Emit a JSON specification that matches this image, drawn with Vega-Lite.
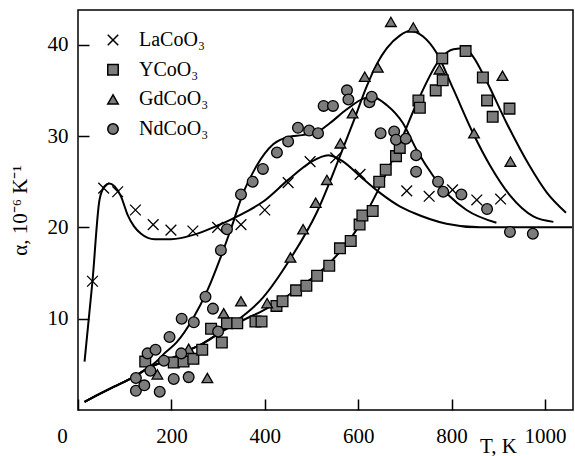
{
  "$schema": "https://vega.github.io/schema/vega-lite/v6.json",
  "width": 495,
  "height": 400,
  "autosize": {"type": "none"},
  "padding": {"left": 78, "top": 10, "right": 2, "bottom": 46},
  "background": "white",
  "config": {
    "view": {"stroke": "black", "strokeWidth": 1.5},
    "font": "Liberation Serif",
    "axis": {
      "domain": false,
      "ticks": false,
      "grid": true,
      "gridColor": "black",
      "gridWidth": 1.5,
      "gridOpacity": 1,
      "labelColor": "black",
      "labelFont": "Liberation Serif",
      "labelFontSize": 21,
      "labelFlush": false,
      "titleFont": "Liberation Serif",
      "titleFontSize": 21,
      "titleFontWeight": "normal",
      "titleColor": "black"
    }
  },
  "datasets": {
    "curves": [
      {"c": "La", "T": 14, "a": 5.3}, {"c": "La", "T": 31, "a": 14.1}, {"c": "La", "T": 46, "a": 23.0}, {"c": "La", "T": 57, "a": 24.5}, {"c": "La", "T": 67, "a": 24.8}, {"c": "La", "T": 78, "a": 24.5}, {"c": "La", "T": 92, "a": 23.4}, {"c": "La", "T": 106, "a": 21.4}, {"c": "La", "T": 120, "a": 20.1}, {"c": "La", "T": 135, "a": 19.3}, {"c": "La", "T": 164, "a": 18.7}, {"c": "La", "T": 199, "a": 18.7}, {"c": "La", "T": 249, "a": 19.2}, {"c": "La", "T": 299, "a": 20.2}, {"c": "La", "T": 325, "a": 20.8}, {"c": "La", "T": 364, "a": 21.8}, {"c": "La", "T": 396, "a": 22.8}, {"c": "La", "T": 450, "a": 25.2}, {"c": "La", "T": 497, "a": 27.1}, {"c": "La", "T": 536, "a": 27.9}, {"c": "La", "T": 568, "a": 27.2}, {"c": "La", "T": 604, "a": 25.6}, {"c": "La", "T": 646, "a": 23.8}, {"c": "La", "T": 689, "a": 22.3}, {"c": "La", "T": 718, "a": 21.6}, {"c": "La", "T": 789, "a": 20.4}, {"c": "La", "T": 861, "a": 20.0}, {"c": "La", "T": 950, "a": 20.0}, {"c": "La", "T": 1058, "a": 20.0},
      {"c": "Nd", "T": 14, "a": 0.9}, {"c": "Nd", "T": 40, "a": 1.6}, {"c": "Nd", "T": 71, "a": 2.4}, {"c": "Nd", "T": 100, "a": 3.1}, {"c": "Nd", "T": 125, "a": 3.8}, {"c": "Nd", "T": 150, "a": 4.6}, {"c": "Nd", "T": 168, "a": 5.3}, {"c": "Nd", "T": 185, "a": 6.2}, {"c": "Nd", "T": 211, "a": 7.4}, {"c": "Nd", "T": 246, "a": 10.0}, {"c": "Nd", "T": 278, "a": 13.2}, {"c": "Nd", "T": 306, "a": 16.8}, {"c": "Nd", "T": 328, "a": 19.9}, {"c": "Nd", "T": 354, "a": 23.8}, {"c": "Nd", "T": 382, "a": 26.7}, {"c": "Nd", "T": 418, "a": 29.1}, {"c": "Nd", "T": 450, "a": 29.9}, {"c": "Nd", "T": 480, "a": 30.1}, {"c": "Nd", "T": 511, "a": 30.4}, {"c": "Nd", "T": 539, "a": 31.4}, {"c": "Nd", "T": 575, "a": 32.9}, {"c": "Nd", "T": 611, "a": 34.1}, {"c": "Nd", "T": 629, "a": 34.3}, {"c": "Nd", "T": 661, "a": 33.4}, {"c": "Nd", "T": 696, "a": 31.4}, {"c": "Nd", "T": 725, "a": 28.5}, {"c": "Nd", "T": 761, "a": 25.6}, {"c": "Nd", "T": 796, "a": 23.4}, {"c": "Nd", "T": 832, "a": 21.9}, {"c": "Nd", "T": 896, "a": 20.5},
      {"c": "Y", "T": 14, "a": 0.9}, {"c": "Y", "T": 40, "a": 1.6}, {"c": "Y", "T": 71, "a": 2.4}, {"c": "Y", "T": 100, "a": 3.1}, {"c": "Y", "T": 125, "a": 3.8}, {"c": "Y", "T": 150, "a": 4.6}, {"c": "Y", "T": 178, "a": 5.2}, {"c": "Y", "T": 211, "a": 5.9}, {"c": "Y", "T": 240, "a": 6.6}, {"c": "Y", "T": 268, "a": 7.3}, {"c": "Y", "T": 299, "a": 8.3}, {"c": "Y", "T": 330, "a": 9.2}, {"c": "Y", "T": 364, "a": 10.1}, {"c": "Y", "T": 389, "a": 10.7}, {"c": "Y", "T": 418, "a": 11.5}, {"c": "Y", "T": 468, "a": 13.2}, {"c": "Y", "T": 539, "a": 16.1}, {"c": "Y", "T": 596, "a": 19.7}, {"c": "Y", "T": 643, "a": 24.1}, {"c": "Y", "T": 689, "a": 29.2}, {"c": "Y", "T": 729, "a": 34.0}, {"c": "Y", "T": 775, "a": 38.4}, {"c": "Y", "T": 804, "a": 39.5}, {"c": "Y", "T": 829, "a": 39.6}, {"c": "Y", "T": 846, "a": 38.7}, {"c": "Y", "T": 875, "a": 36.0}, {"c": "Y", "T": 918, "a": 31.4}, {"c": "Y", "T": 965, "a": 26.9}, {"c": "Y", "T": 1004, "a": 23.8}, {"c": "Y", "T": 1045, "a": 21.6},
      {"c": "Gd", "T": 14, "a": 0.9}, {"c": "Gd", "T": 40, "a": 1.6}, {"c": "Gd", "T": 71, "a": 2.4}, {"c": "Gd", "T": 100, "a": 3.1}, {"c": "Gd", "T": 125, "a": 3.8}, {"c": "Gd", "T": 150, "a": 4.6}, {"c": "Gd", "T": 178, "a": 5.2}, {"c": "Gd", "T": 211, "a": 5.9}, {"c": "Gd", "T": 240, "a": 6.6}, {"c": "Gd", "T": 268, "a": 7.3}, {"c": "Gd", "T": 299, "a": 8.3}, {"c": "Gd", "T": 330, "a": 9.4}, {"c": "Gd", "T": 396, "a": 12.3}, {"c": "Gd", "T": 454, "a": 16.5}, {"c": "Gd", "T": 511, "a": 21.6}, {"c": "Gd", "T": 561, "a": 27.8}, {"c": "Gd", "T": 590, "a": 31.6}, {"c": "Gd", "T": 618, "a": 35.4}, {"c": "Gd", "T": 640, "a": 37.9}, {"c": "Gd", "T": 661, "a": 39.6}, {"c": "Gd", "T": 689, "a": 41.0}, {"c": "Gd", "T": 710, "a": 41.5}, {"c": "Gd", "T": 739, "a": 40.9}, {"c": "Gd", "T": 768, "a": 39.1}, {"c": "Gd", "T": 804, "a": 35.1}, {"c": "Gd", "T": 846, "a": 30.3}, {"c": "Gd", "T": 882, "a": 26.8}, {"c": "Gd", "T": 925, "a": 23.5}, {"c": "Gd", "T": 975, "a": 21.2}, {"c": "Gd", "T": 1018, "a": 20.6}
    ],
    "points": [
      {"s": "LaCoO₃", "T": 31, "a": 14.1}, {"s": "LaCoO₃", "T": 55, "a": 24.3}, {"s": "LaCoO₃", "T": 85, "a": 23.9}, {"s": "LaCoO₃", "T": 123, "a": 21.9}, {"s": "LaCoO₃", "T": 161, "a": 20.3}, {"s": "LaCoO₃", "T": 199, "a": 19.7}, {"s": "LaCoO₃", "T": 246, "a": 19.6}, {"s": "LaCoO₃", "T": 299, "a": 20.0}, {"s": "LaCoO₃", "T": 349, "a": 20.3}, {"s": "LaCoO₃", "T": 400, "a": 21.9}, {"s": "LaCoO₃", "T": 450, "a": 24.9}, {"s": "LaCoO₃", "T": 497, "a": 27.2}, {"s": "LaCoO₃", "T": 552, "a": 27.6}, {"s": "LaCoO₃", "T": 604, "a": 25.8}, {"s": "LaCoO₃", "T": 704, "a": 24.0}, {"s": "LaCoO₃", "T": 752, "a": 23.4}, {"s": "LaCoO₃", "T": 802, "a": 24.1}, {"s": "LaCoO₃", "T": 854, "a": 23.0}, {"s": "LaCoO₃", "T": 905, "a": 23.1},
      {"s": "YCoO₃", "T": 144, "a": 5.3}, {"s": "YCoO₃", "T": 205, "a": 5.2}, {"s": "YCoO₃", "T": 226, "a": 5.3}, {"s": "YCoO₃", "T": 247, "a": 5.6}, {"s": "YCoO₃", "T": 266, "a": 6.6}, {"s": "YCoO₃", "T": 285, "a": 8.9}, {"s": "YCoO₃", "T": 308, "a": 7.4}, {"s": "YCoO₃", "T": 319, "a": 9.5}, {"s": "YCoO₃", "T": 341, "a": 9.5}, {"s": "YCoO₃", "T": 380, "a": 9.7}, {"s": "YCoO₃", "T": 393, "a": 9.7}, {"s": "YCoO₃", "T": 425, "a": 11.4}, {"s": "YCoO₃", "T": 438, "a": 11.9}, {"s": "YCoO₃", "T": 467, "a": 13.1}, {"s": "YCoO₃", "T": 489, "a": 13.6}, {"s": "YCoO₃", "T": 512, "a": 14.7}, {"s": "YCoO₃", "T": 538, "a": 15.8}, {"s": "YCoO₃", "T": 561, "a": 17.7}, {"s": "YCoO₃", "T": 584, "a": 18.5}, {"s": "YCoO₃", "T": 603, "a": 20.3}, {"s": "YCoO₃", "T": 609, "a": 21.3}, {"s": "YCoO₃", "T": 631, "a": 21.8}, {"s": "YCoO₃", "T": 645, "a": 25.0}, {"s": "YCoO₃", "T": 659, "a": 26.3}, {"s": "YCoO₃", "T": 681, "a": 27.8}, {"s": "YCoO₃", "T": 689, "a": 28.7}, {"s": "YCoO₃", "T": 729, "a": 33.9}, {"s": "YCoO₃", "T": 732, "a": 33.1}, {"s": "YCoO₃", "T": 766, "a": 35.0}, {"s": "YCoO₃", "T": 781, "a": 36.1}, {"s": "YCoO₃", "T": 780, "a": 38.5}, {"s": "YCoO₃", "T": 830, "a": 39.3}, {"s": "YCoO₃", "T": 867, "a": 36.4}, {"s": "YCoO₃", "T": 876, "a": 33.9}, {"s": "YCoO₃", "T": 888, "a": 32.1}, {"s": "YCoO₃", "T": 924, "a": 33.0},
      {"s": "GdCoO₃", "T": 170, "a": 3.9}, {"s": "GdCoO₃", "T": 237, "a": 6.7}, {"s": "GdCoO₃", "T": 277, "a": 3.5}, {"s": "GdCoO₃", "T": 312, "a": 10.6}, {"s": "GdCoO₃", "T": 349, "a": 11.9}, {"s": "GdCoO₃", "T": 405, "a": 11.7}, {"s": "GdCoO₃", "T": 455, "a": 16.7}, {"s": "GdCoO₃", "T": 482, "a": 19.8}, {"s": "GdCoO₃", "T": 509, "a": 22.7}, {"s": "GdCoO₃", "T": 533, "a": 25.2}, {"s": "GdCoO₃", "T": 562, "a": 29.2}, {"s": "GdCoO₃", "T": 588, "a": 32.5}, {"s": "GdCoO₃", "T": 614, "a": 36.5}, {"s": "GdCoO₃", "T": 642, "a": 37.5}, {"s": "GdCoO₃", "T": 670, "a": 42.5}, {"s": "GdCoO₃", "T": 718, "a": 41.9}, {"s": "GdCoO₃", "T": 774, "a": 37.3}, {"s": "GdCoO₃", "T": 848, "a": 30.3}, {"s": "GdCoO₃", "T": 909, "a": 36.6}, {"s": "GdCoO₃", "T": 926, "a": 27.2},
      {"s": "NdCoO₃", "T": 124, "a": 3.5}, {"s": "NdCoO₃", "T": 124, "a": 2.1}, {"s": "NdCoO₃", "T": 142, "a": 2.7}, {"s": "NdCoO₃", "T": 149, "a": 6.2}, {"s": "NdCoO₃", "T": 166, "a": 6.6}, {"s": "NdCoO₃", "T": 155, "a": 4.3}, {"s": "NdCoO₃", "T": 175, "a": 2.0}, {"s": "NdCoO₃", "T": 184, "a": 5.4}, {"s": "NdCoO₃", "T": 196, "a": 8.0}, {"s": "NdCoO₃", "T": 205, "a": 3.4}, {"s": "NdCoO₃", "T": 222, "a": 10.0}, {"s": "NdCoO₃", "T": 221, "a": 6.2}, {"s": "NdCoO₃", "T": 237, "a": 3.6}, {"s": "NdCoO₃", "T": 248, "a": 9.6}, {"s": "NdCoO₃", "T": 273, "a": 12.4}, {"s": "NdCoO₃", "T": 289, "a": 11.1}, {"s": "NdCoO₃", "T": 300, "a": 8.6}, {"s": "NdCoO₃", "T": 306, "a": 17.5}, {"s": "NdCoO₃", "T": 319, "a": 19.8}, {"s": "NdCoO₃", "T": 349, "a": 23.6}, {"s": "NdCoO₃", "T": 374, "a": 25.0}, {"s": "NdCoO₃", "T": 396, "a": 26.4}, {"s": "NdCoO₃", "T": 426, "a": 28.2}, {"s": "NdCoO₃", "T": 450, "a": 29.4}, {"s": "NdCoO₃", "T": 471, "a": 30.9}, {"s": "NdCoO₃", "T": 495, "a": 30.6}, {"s": "NdCoO₃", "T": 514, "a": 30.3}, {"s": "NdCoO₃", "T": 526, "a": 33.3}, {"s": "NdCoO₃", "T": 546, "a": 33.3}, {"s": "NdCoO₃", "T": 576, "a": 35.0}, {"s": "NdCoO₃", "T": 579, "a": 34.0}, {"s": "NdCoO₃", "T": 624, "a": 33.7}, {"s": "NdCoO₃", "T": 629, "a": 34.3}, {"s": "NdCoO₃", "T": 648, "a": 30.3}, {"s": "NdCoO₃", "T": 677, "a": 30.5}, {"s": "NdCoO₃", "T": 681, "a": 29.6}, {"s": "NdCoO₃", "T": 702, "a": 29.7}, {"s": "NdCoO₃", "T": 724, "a": 27.9}, {"s": "NdCoO₃", "T": 724, "a": 26.1}, {"s": "NdCoO₃", "T": 771, "a": 25.0}, {"s": "NdCoO₃", "T": 782, "a": 23.9}, {"s": "NdCoO₃", "T": 821, "a": 23.6}, {"s": "NdCoO₃", "T": 876, "a": 22.0}, {"s": "NdCoO₃", "T": 925, "a": 19.5}, {"s": "NdCoO₃", "T": 974, "a": 19.3}
    ]
  },
  "encoding": {
    "x": {
      "field": "T",
      "type": "quantitative",
      "scale": {"domain": [0, 1060], "nice": false, "zero": false},
      "axis": {
        "values": [0, 200, 400, 600, 800, 1000],
        "format": "d",
        "gridDash": [0, 389, 11, 1000],
        "labelPadding": 15,
        "labelOffset": {"condition": {"test": "datum.value === 0", "value": -16}, "value": 0},
        "title": "T, K",
        "titleX": 420,
        "titleY": 42,
        "titleAlign": "center",
        "titleBaseline": "alphabetic"
      }
    },
    "y": {
      "field": "a",
      "type": "quantitative",
      "scale": {"domain": [0, 43.8], "nice": false, "zero": false},
      "axis": {
        "values": [10, 20, 30, 40],
        "gridDash": [11, 1000],
        "labelPadding": 10,
        "title": "α, 10⁻⁶ K⁻¹",
        "titlePadding": 17
      }
    }
  },
  "layer": [
    {
      "data": {"name": "curves"},
      "mark": {"type": "line", "color": "black", "strokeWidth": 2, "interpolate": "monotone", "clip": true},
      "encoding": {"detail": {"field": "c", "type": "nominal"}}
    },
    {
      "data": {"name": "points"},
      "mark": {"type": "point", "filled": true, "stroke": "black", "strokeWidth": 1.3, "opacity": 1, "size": 115},
      "encoding": {
        "shape": {
          "field": "s",
          "type": "nominal",
          "scale": {"domain": ["LaCoO₃", "YCoO₃", "GdCoO₃", "NdCoO₃"], "range": ["M-1,-1L1,1M-1,1L1,-1", "square", "triangle-up", "circle"]},
          "legend": {
            "title": null,
            "orient": "none",
            "legendX": 25,
            "legendY": 20,
            "padding": 0,
            "labelFont": "Liberation Serif",
            "labelFontSize": 20,
            "labelColor": "black",
            "labelOffset": 16,
            "symbolSize": 110,
            "rowPadding": 9.7,
            "symbolOpacity": 1,
            "encode": {"symbols": {"update": {"stroke": {"value": "black"}, "strokeWidth": {"value": 1.4}}}}
          }
        },
        "fill": {
          "field": "s",
          "type": "nominal",
          "scale": {"domain": ["LaCoO₃", "YCoO₃", "GdCoO₃", "NdCoO₃"], "range": ["transparent", "#7c7c7c", "#7c7c7c", "#7c7c7c"]},
          "legend": {
            "title": null,
            "orient": "none",
            "legendX": 25,
            "legendY": 20,
            "padding": 0,
            "labelFont": "Liberation Serif",
            "labelFontSize": 20,
            "labelColor": "black",
            "labelOffset": 16,
            "symbolSize": 110,
            "rowPadding": 9.7,
            "symbolOpacity": 1,
            "encode": {"symbols": {"update": {"stroke": {"value": "black"}, "strokeWidth": {"value": 1.4}}}}
          }
        }
      }
    }
  ]
}
